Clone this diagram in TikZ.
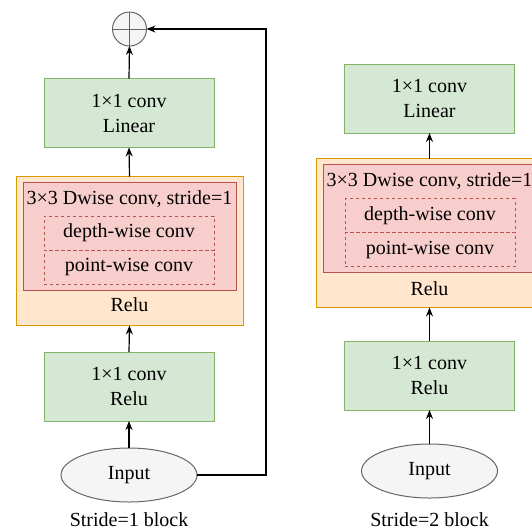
\documentclass[tikz,border=0pt]{standalone}
\usepackage{fontspec}
\setmainfont{Liberation Serif}
\usetikzlibrary{arrows.meta,shapes.geometric}
\definecolor{gfill}{HTML}{D5E8D4}
\definecolor{gline}{HTML}{82B366}
\definecolor{ofill}{HTML}{FFE6CC}
\definecolor{oline}{HTML}{D79B00}
\definecolor{rfill}{HTML}{F8CECC}
\definecolor{rline}{HTML}{B85450}
\definecolor{efill}{HTML}{F5F5F5}
\definecolor{eline}{HTML}{666666}
\tikzset{
  every node/.style={font=\fontsize{20}{25}\selectfont, inner sep=0pt, outer sep=0pt},
  greenbox/.style={draw=gline, fill=gfill, line width=1pt, minimum width=170pt, minimum height=69pt, align=center},
  orangebox/.style={draw=oline, fill=ofill, line width=1pt, minimum width=227pt, minimum height=149pt},
  redbox/.style={draw=rline, fill=rfill, line width=1pt, minimum width=213pt, minimum height=108pt},
  dashbox/.style={draw=rline, line width=0.8pt, dash pattern=on 3pt off 3pt, minimum width=170pt, minimum height=34pt},
  inputell/.style={ellipse, draw=eline, fill=efill, line width=1pt, minimum width=136pt, minimum height=54pt},
  plusnode/.style={circle, draw=eline, fill=efill, line width=1pt, minimum size=34pt},
  arr/.style={-{Stealth[length=9pt,width=7pt,inset=3pt]}, line width=1.2pt, black},
  plainline/.style={line width=1.2pt, black}
}
\begin{document}
\begin{tikzpicture}[x=1pt,y=-1pt]
\useasboundingbox (0,0) rectangle (532,531);
\clip (0,0) rectangle (532,531);
% ---------- left block ----------
\node[plusnode] (plusL) at (129.5,29) {};
\draw[eline, line width=1pt] (plusL.north) -- (plusL.south) (plusL.west) -- (plusL.east);
\node[greenbox] (linL) at (129,113) {1×1 conv\\Linear};
\node[orangebox] (orgL) at (129.5,251) {};
\node[redbox] (redL) at (129.5,236) {};
\node[dashbox] (dwL) at (129,233) {};
\node[dashbox] (pwL) at (129,267) {};
\node (titL) at (129.5,199) {3×3 Dwise conv, stride=1};
\node at (dwL) {depth-wise conv};
\node at (pwL) {point-wise conv};
\node (reluTL) at (129.5,305) {Relu};
\node[greenbox] (reluL) at (129,386.5) {1×1 conv\\Relu};
\node[inputell] (inL) at (129,475) {Input};
\node (capL) at (129,520) {Stride=1 block};
\coordinate (fb) at (266,29);
\draw[arr] (inL.north) -- (reluL.south);
\draw[arr] (reluL.north) -- (orgL.south);
\draw[arr] (orgL.north) -- (linL.south);
\draw[arr] (linL.north) -- (plusL.south);
\draw[arr] (inL.east) -| (fb) -- (plusL.east);
% ---------- right block ----------
\node[greenbox] (linR) at (429.5,98.5) {1×1 conv\\Linear};
\node[orangebox] (orgR) at (429.5,233) {};
\node[redbox] (redR) at (429.5,218) {};
\node[dashbox] (dwR) at (430,215.5) {};
\node[dashbox] (pwR) at (430,249.5) {};
\node (titR) at (429.5,181) {3×3 Dwise conv, stride=1};
\node at (dwR) {depth-wise conv};
\node at (pwR) {point-wise conv};
\node (reluTR) at (429.5,289) {Relu};
\node[greenbox] (reluR) at (429.5,375.5) {1×1 conv\\Relu};
\node[inputell] (inR) at (429.5,471) {Input};
\node (capR) at (429.5,520) {Stride=2 block};
\draw[arr] (inR.north) -- (reluR.south);
\draw[arr] (reluR.north) -- (orgR.south);
\draw[arr] (orgR.north) -- (linR.south);
\end{tikzpicture}
\end{document}
